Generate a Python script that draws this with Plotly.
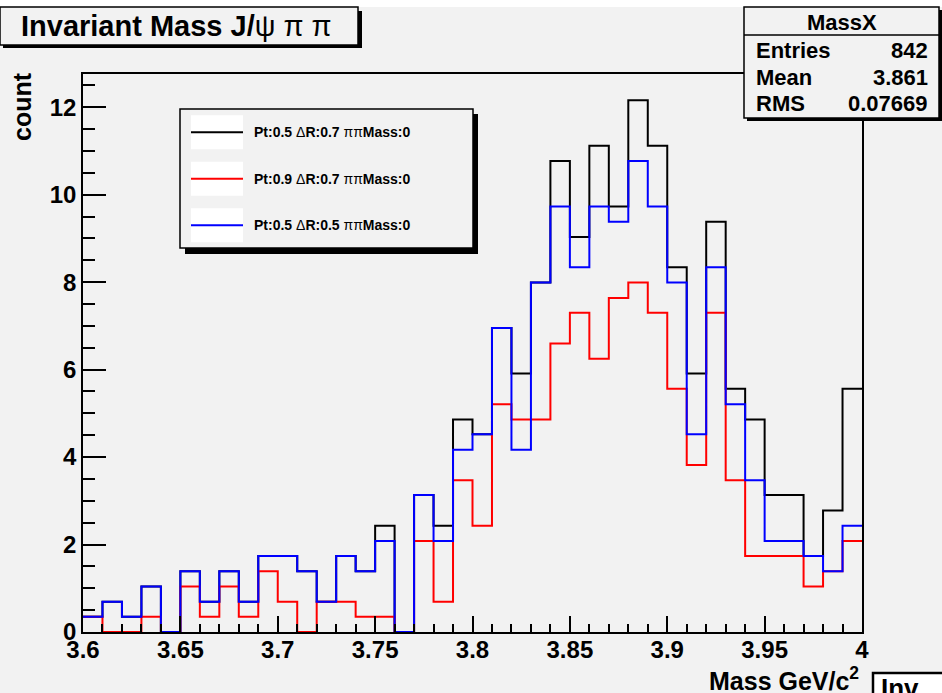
import plotly.graph_objects as go

# ---------------- data ----------------
bin_edges = [3.60, 3.61, 3.62, 3.63, 3.64, 3.65, 3.66, 3.67, 3.68, 3.69,
             3.70, 3.71, 3.72, 3.73, 3.74, 3.75, 3.76, 3.77, 3.78, 3.79,
             3.80, 3.81, 3.82, 3.83, 3.84, 3.85, 3.86, 3.87, 3.88, 3.89,
             3.90, 3.91, 3.92, 3.93, 3.94, 3.95, 3.96, 3.97, 3.98, 3.99, 4.00]

black_vals = [0.35, 0.69, 0.35, 1.04, 0.00, 1.39, 0.69, 1.39, 0.69, 1.74,
              1.74, 1.39, 0.69, 1.74, 1.39, 2.43, 0.00, 3.13, 2.43, 4.86,
              4.52, 6.95, 5.91, 7.99, 10.77, 9.03, 11.12, 9.73, 12.16, 11.12,
              8.34, 5.91, 9.38, 5.56, 4.86, 3.13, 3.13, 1.74, 2.78, 5.56]

red_vals = [0.35, 0.00, 0.00, 0.35, 0.00, 1.04, 0.35, 1.04, 0.35, 1.39,
            0.69, 0.00, 0.69, 0.69, 0.35, 0.35, 0.00, 2.08, 0.69, 3.47,
            2.43, 5.21, 4.86, 4.86, 6.60, 7.30, 6.25, 7.64, 7.99, 7.30,
            5.56, 3.82, 7.30, 3.47, 1.74, 1.74, 1.74, 1.04, 1.39, 2.08]

blue_vals = [0.35, 0.69, 0.35, 1.04, 0.00, 1.39, 0.69, 1.39, 0.69, 1.74,
             1.74, 1.39, 0.69, 1.74, 1.39, 2.08, 0.00, 3.13, 2.08, 4.17,
             4.52, 6.95, 4.17, 7.99, 9.73, 8.34, 9.73, 9.38, 10.77, 9.73,
             7.99, 4.52, 8.34, 5.21, 3.47, 2.08, 2.08, 1.74, 1.39, 2.43]

series_names = ["Pt:0.5 \u0394R:0.7 \u03c0\u03c0Mass:0",
                "Pt:0.9 \u0394R:0.7 \u03c0\u03c0Mass:0",
                "Pt:0.5 \u0394R:0.5 \u03c0\u03c0Mass:0"]
series_colors = ["#000000", "#ff0000", "#0000ff"]

x_tick_vals = [3.60, 3.65, 3.70, 3.75, 3.80, 3.85, 3.90, 3.95, 4.00]
x_tick_text = ["3.6", "3.65", "3.7", "3.75", "3.8", "3.85", "3.9", "3.95", "4"]

stats_title = "MassX"
stats_labels = ["Entries", "Mean", "RMS"]
stats_values = ["842", "3.861", "0.07669"]

# ---------------- layout helpers ----------------
W, H = 942, 693
L, R, T, B = 83, 80, 74, 61
PW, PH = W - L - R, H - T - B
FONT = "Liberation Sans, Arial, sans-serif"
BG = "#f2f2f2"


def px(x):
    return (x - L) / PW


def py(y):
    return (H - B - y) / PH


fig = go.Figure()

for vals, name, col in zip([black_vals, red_vals, blue_vals], series_names, series_colors):
    fig.add_trace(go.Scatter(
        x=bin_edges, y=vals + [vals[-1]], mode="lines", name=name,
        line=dict(color=col, width=2, shape="hv"), showlegend=False,
        hoverinfo="skip"))

shapes = []
annotations = []


def rect(x0, y0, x1, y1, fill, line_color="black", lw=1.5):
    shapes.append(dict(type="rect", xref="paper", yref="paper",
                       x0=px(x0), x1=px(x1), y0=py(y1), y1=py(y0),
                       fillcolor=fill, line=dict(color=line_color, width=lw),
                       layer="above"))


def seg(x0, y0, x1, y1, col="black", lw=1.5):
    shapes.append(dict(type="line", xref="paper", yref="paper",
                       x0=px(x0), x1=px(x1), y0=py(y0), y1=py(y1),
                       line=dict(color=col, width=lw), layer="above"))


def text(x, y, s, size, xanchor="left", yanchor="middle", angle=0, weight="bold"):
    annotations.append(dict(xref="paper", yref="paper", x=px(x), y=py(y),
                            text=s, showarrow=False, xanchor=xanchor, yanchor=yanchor,
                            textangle=angle,
                            font=dict(family=FONT, size=size, color="black", weight=weight)))


# white strip at very top of canvas
rect(-20, -5, W + 20, 7, "white", line_color="white", lw=0)

# title box with shadow
rect(3, 11, 362, 48, "black", lw=0)
rect(0, 7, 358, 45, BG)
text(19, 26, "<b>Invariant Mass J/</b>\u03c8 \u03c0 \u03c0", 29, weight="normal")

# stats box with shadow
rect(747, 10, 943, 121, "black", lw=0)
rect(744, 7, 939, 118, BG)
seg(744, 35, 939, 35)
text(841.5, 22, stats_title, 22, xanchor="center")
for i, (lab, val) in enumerate(zip(stats_labels, stats_values)):
    yy = 50 + 27 * i
    text(754, yy, lab, 22, xanchor="left")
    text(930, yy, val, 22, xanchor="right")

# legend box with shadow
rect(185, 114, 478, 254, "black", lw=0)
rect(180, 109, 473, 248, BG)
for i, (name, col) in enumerate(zip(series_names, series_colors)):
    yc = 132.3 + 46.5 * i
    rect(191, yc - 17, 243, yc + 17, "white", line_color="white", lw=0)
    seg(191, yc, 243, yc, col=col, lw=2)
    parts = name.split(" ")
    label = ("<b>" + parts[0] + " </b>\u0394<b>" + parts[1][1:] + " </b>\u03c0\u03c0<b>"
             + parts[2][2:] + "</b>")
    text(252, yc, label, 14, weight="normal")

# axis titles
text(861, 679, "Mass GeV/c<sup>2</sup>", 25, xanchor="right")
text(22, 107, "count", 25, xanchor="center", angle=-90)

# partially visible pad title at bottom right
rect(873, 673, 960, 720, "white", lw=2.5)
text(879, 671, "Inv", 26, xanchor="left", yanchor="top")

fig.update_layout(
    width=W, height=H,
    margin=dict(l=L, r=R, t=T, b=B, pad=0),
    paper_bgcolor=BG, plot_bgcolor=BG,
    shapes=shapes, annotations=annotations,
    showlegend=False,
    xaxis=dict(range=[3.6, 4.0], tickvals=x_tick_vals, ticktext=x_tick_text,
               ticks="inside", ticklen=16, tickwidth=1.5, tickcolor="black",
               minor=dict(dtick=0.01, tick0=3.6, ticks="inside", ticklen=8,
                          tickwidth=1.5, tickcolor="black", showgrid=False),
               showline=True, linecolor="black", linewidth=1.5, mirror=True,
               showgrid=False, zeroline=False, ticklabelstandoff=-5,
               tickfont=dict(family=FONT, size=24, color="black", weight="bold")),
    yaxis=dict(range=[0, 12.76], dtick=2, tick0=0,
               ticks="inside", ticklen=23, tickwidth=1.5, tickcolor="black",
               minor=dict(dtick=0.5, tick0=0, ticks="inside", ticklen=12,
                          tickwidth=1.5, tickcolor="black", showgrid=False),
               showline=True, linecolor="black", linewidth=1.5, mirror=True,
               showgrid=False, zeroline=False,
               tickfont=dict(family=FONT, size=24, color="black", weight="bold")),
)

fig.write_html("out.html")
